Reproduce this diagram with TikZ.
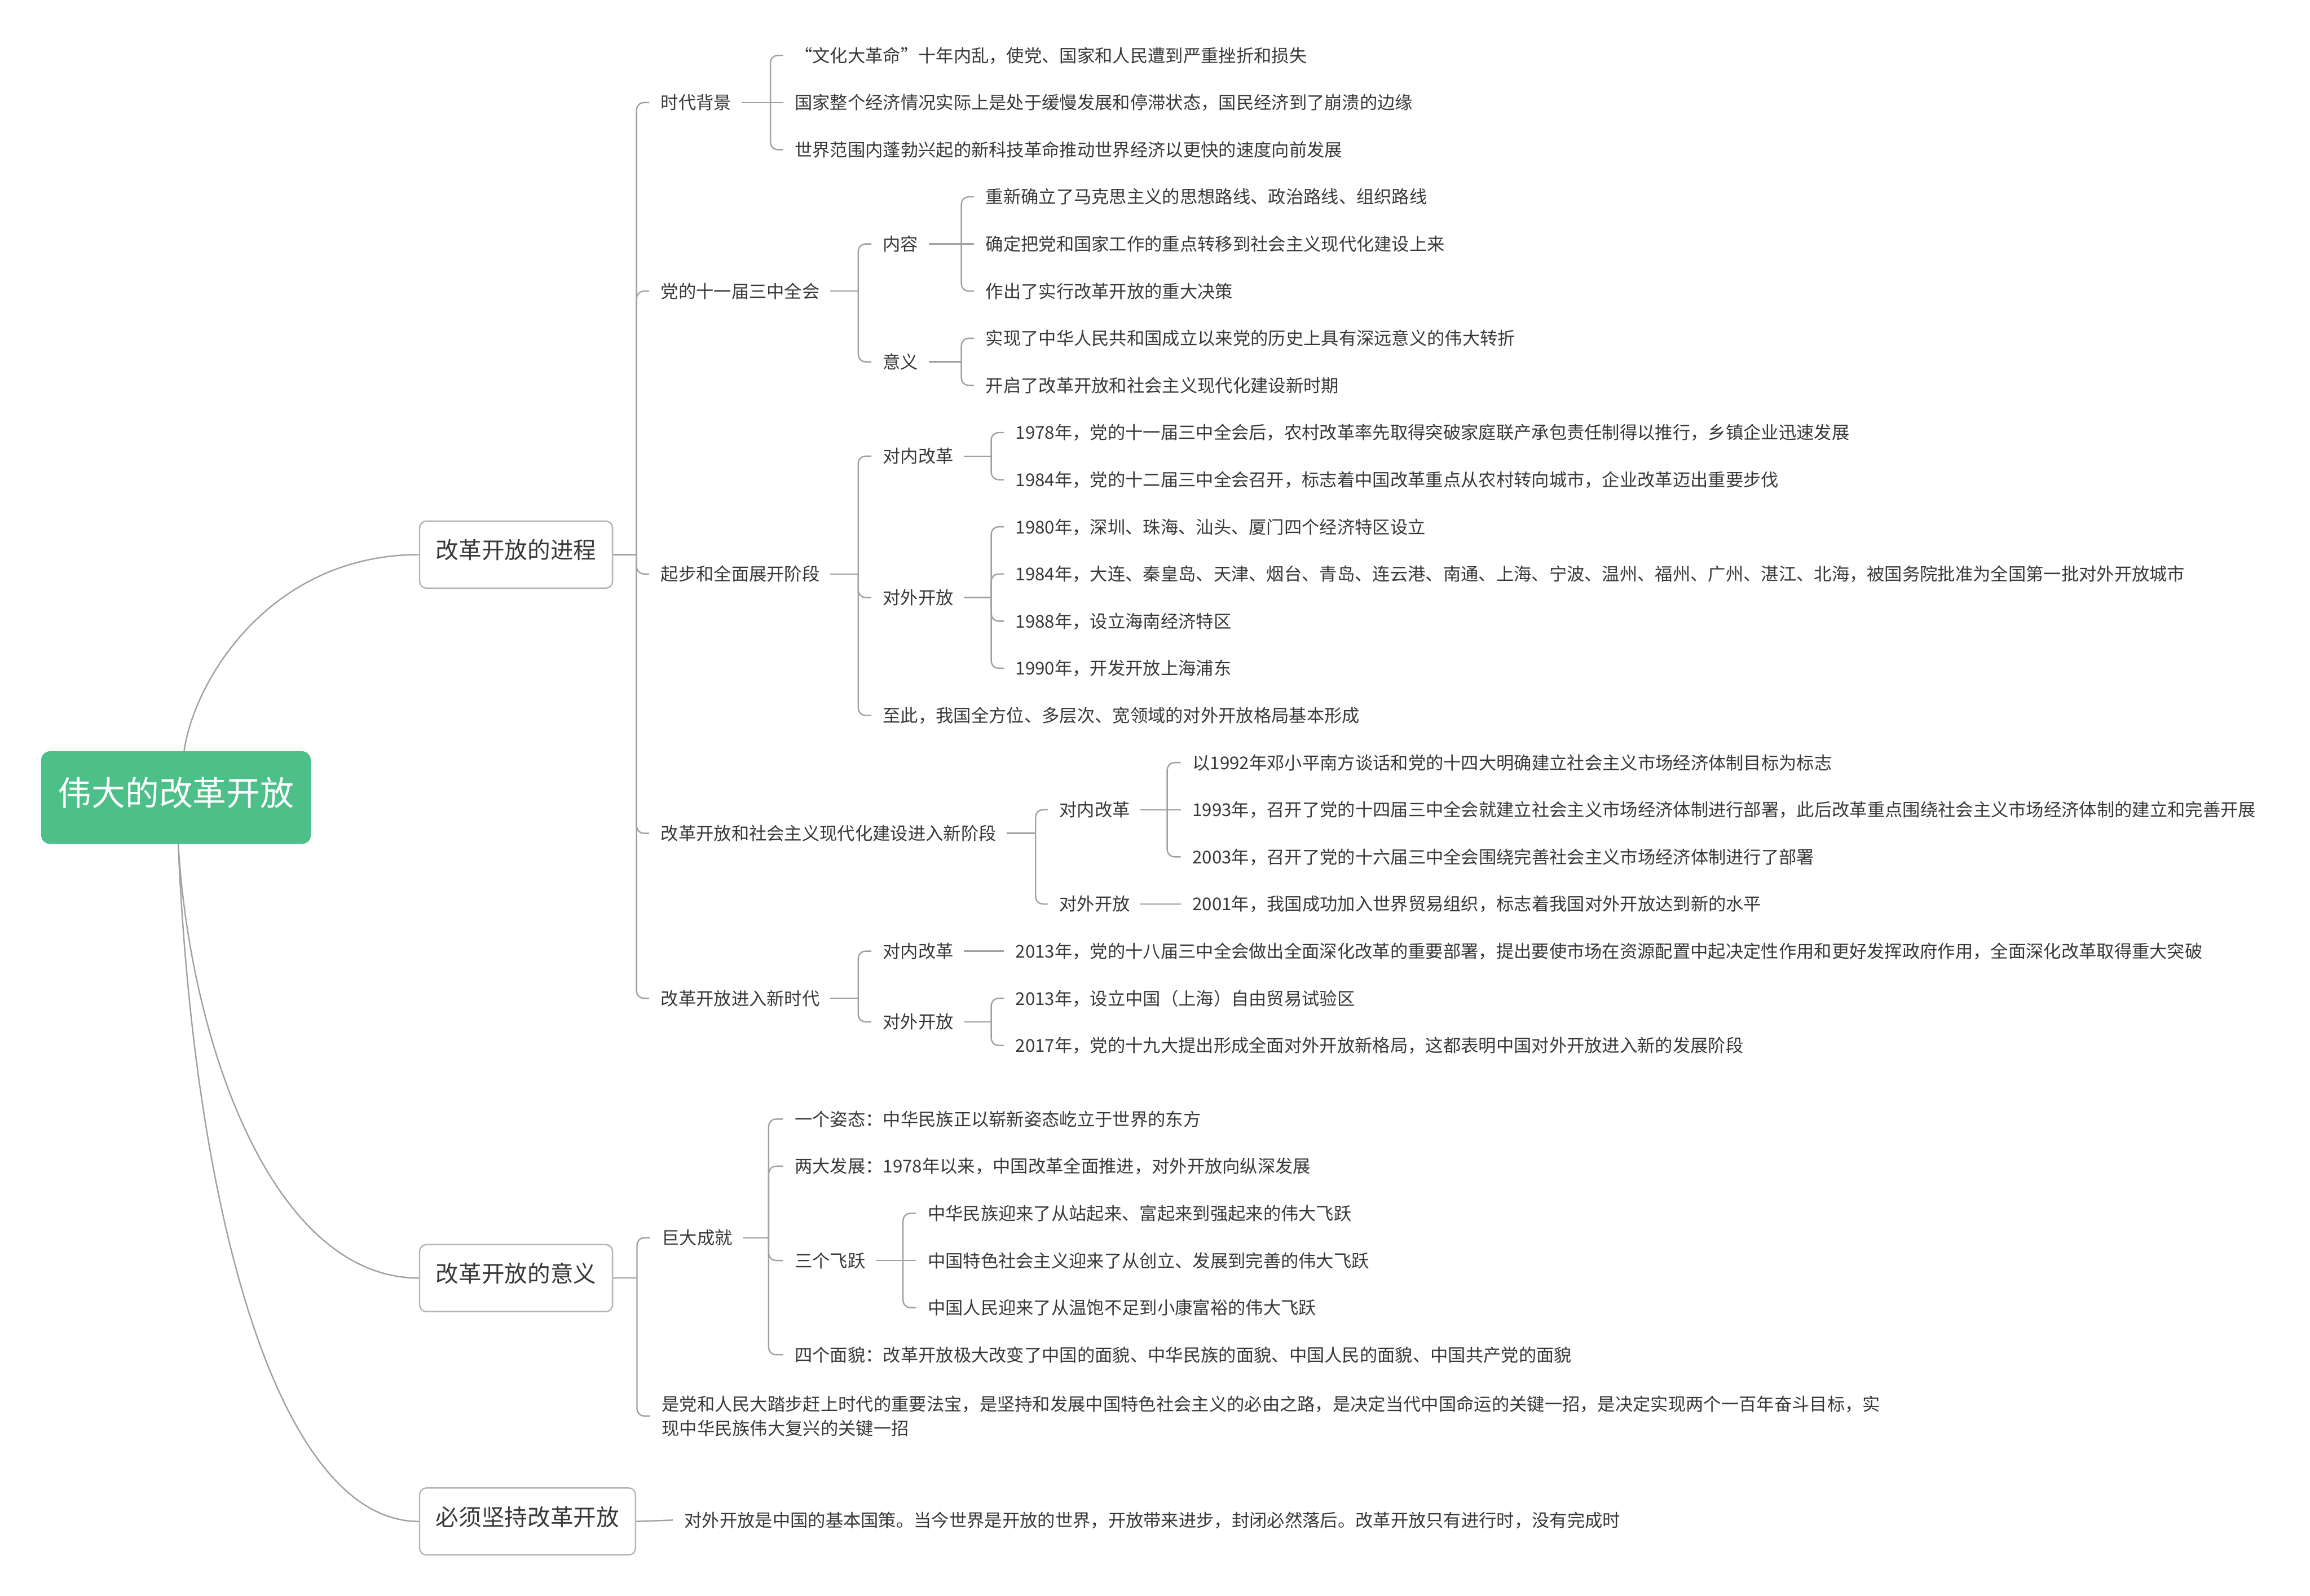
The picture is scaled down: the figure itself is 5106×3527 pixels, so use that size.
\documentclass[tikz,border=0pt]{standalone}
\usepackage{fontspec}
\setmainfont{Noto Sans CJK SC}
\usetikzlibrary{calc}
\definecolor{rootgreen}{RGB}{77,192,138}
\definecolor{txt}{RGB}{56,56,56}
\definecolor{ln}{RGB}{160,160,160}
\definecolor{bd}{RGB}{180,180,180}
\begin{document}
\begin{tikzpicture}[x=0.01cm,y=-0.01cm,
  conn/.style={draw=ln,line width=0.03cm},
  elbow/.style={conn,rounded corners=0.16cm},
  leaf/.style={anchor=west,inner sep=0pt,text=txt,font=\fontsize{11.1}{15}\selectfont,text height=9.77pt,text depth=1.33pt},
  para/.style={anchor=west,inner sep=0pt,text=txt,font=\fontsize{11.1}{15.4}\selectfont,align=left},
  mainbox/.style={anchor=west,draw=bd,line width=0.03cm,fill=white,rounded corners=0.15cm,inner xsep=0.36cm,inner ysep=0pt,minimum height=1.48cm,text=txt,font=\fontsize{14.4}{17}\selectfont,text height=12.7pt,text depth=7.5pt},
  rootbox/.style={fill=rootgreen,rounded corners=0.2cm,minimum width=5.96cm,minimum height=2.05cm,text=white,font=\fontsize{21.2}{25}\selectfont,inner sep=0pt,text height=18.6pt,text depth=8.2pt}]
\useasboundingbox (0,0) rectangle (5106,3527);

% root and main branches
\node[rootbox] (root) at (389,1763) {伟大的改革开放};
\node[mainbox] (p1) at (926,1226) {改革开放的进程};
\node[mainbox] (p2) at (926,2825) {改革开放的意义};
\node[mainbox] (p3) at (926,3363) {必须坚持改革开放};

\draw[conn] ([xshift=0.18cm]root.north) .. controls (430,1500) and (600,1226) .. (p1.west);
\draw[conn] ([xshift=0.05cm]root.south) .. controls (420,2300) and (600,2825) .. (p2.west);
\draw[conn] ([xshift=0.05cm]root.south) .. controls (430,2700) and (620,3363) .. (p3.west);

% ---- 改革开放的进程 ----
\node[leaf] (a) at (1460,226.7) {时代背景};
\node[leaf] (a1) at (1756,122.5) {“文化大革命”十年内乱，使党、国家和人民遭到严重挫折和损失};
\node[leaf] (a2) at (1756,226.7) {国家整个经济情况实际上是处于缓慢发展和停滞状态，国民经济到了崩溃的边缘};
\node[leaf] (a3) at (1756,330.9) {世界范围内蓬勃兴起的新科技革命推动世界经济以更快的速度向前发展};

\node[leaf] (b) at (1460,643.5) {党的十一届三中全会};
\node[leaf] (b1) at (1951,539.3) {内容};
\node[leaf] (b11) at (2178,435.1) {重新确立了马克思主义的思想路线、政治路线、组织路线};
\node[leaf] (b12) at (2178,539.3) {确定把党和国家工作的重点转移到社会主义现代化建设上来};
\node[leaf] (b13) at (2178,643.5) {作出了实行改革开放的重大决策};
\node[leaf] (b2) at (1951,799.8) {意义};
\node[leaf] (b21) at (2178,747.7) {实现了中华人民共和国成立以来党的历史上具有深远意义的伟大转折};
\node[leaf] (b22) at (2178,851.9) {开启了改革开放和社会主义现代化建设新时期};

\node[leaf] (c) at (1460,1268.7) {起步和全面展开阶段};
\node[leaf] (c1) at (1951,1008.2) {对内改革};
\node[leaf] (c11) at (2244,956.1) {1978年，党的十一届三中全会后，农村改革率先取得突破家庭联产承包责任制得以推行，乡镇企业迅速发展};
\node[leaf] (c12) at (2244,1060.3) {1984年，党的十二届三中全会召开，标志着中国改革重点从农村转向城市，企业改革迈出重要步伐};
\node[leaf] (c2) at (1951,1320.8) {对外开放};
\node[leaf] (c21) at (2244,1164.5) {1980年，深圳、珠海、汕头、厦门四个经济特区设立};
\node[leaf] (c22) at (2244,1268.7) {1984年，大连、秦皇岛、天津、烟台、青岛、连云港、南通、上海、宁波、温州、福州、广州、湛江、北海，被国务院批准为全国第一批对外开放城市};
\node[leaf] (c23) at (2244,1372.9) {1988年，设立海南经济特区};
\node[leaf] (c24) at (2244,1477.1) {1990年，开发开放上海浦东};
\node[leaf] (c3) at (1951,1581.3) {至此，我国全方位、多层次、宽领域的对外开放格局基本形成};

\node[leaf] (d) at (1460,1841.9) {改革开放和社会主义现代化建设进入新阶段};
\node[leaf] (d1) at (2341,1789.8) {对内改革};
\node[leaf] (d11) at (2635,1685.6) {以1992年邓小平南方谈话和党的十四大明确建立社会主义市场经济体制目标为标志};
\node[leaf] (d12) at (2635,1789.8) {1993年，召开了党的十四届三中全会就建立社会主义市场经济体制进行部署，此后改革重点围绕社会主义市场经济体制的建立和完善开展};
\node[leaf] (d13) at (2635,1894.0) {2003年，召开了党的十六届三中全会围绕完善社会主义市场经济体制进行了部署};
\node[leaf] (d2) at (2341,1998.2) {对外开放};
\node[leaf] (d21) at (2635,1998.2) {2001年，我国成功加入世界贸易组织，标志着我国对外开放达到新的水平};

\node[leaf] (e) at (1460,2206.6) {改革开放进入新时代};
\node[leaf] (e1) at (1951,2102.4) {对内改革};
\node[leaf] (e11) at (2244,2102.4) {2013年，党的十八届三中全会做出全面深化改革的重要部署，提出要使市场在资源配置中起决定性作用和更好发挥政府作用，全面深化改革取得重大突破};
\node[leaf] (e2) at (1951,2258.7) {对外开放};
\node[leaf] (e21) at (2244,2206.6) {2013年，设立中国（上海）自由贸易试验区};
\node[leaf] (e22) at (2244,2310.8) {2017年，党的十九大提出形成全面对外开放新格局，这都表明中国对外开放进入新的发展阶段};

% ---- 改革开放的意义 ----
\node[leaf] (f) at (1462,2736) {巨大成就};
\node[leaf] (f1) at (1756,2473.6) {一个姿态：中华民族正以崭新姿态屹立于世界的东方};
\node[leaf] (f2) at (1756,2577.8) {两大发展：1978年以来，中国改革全面推进，对外开放向纵深发展};
\node[leaf] (f3) at (1756,2786.2) {三个飞跃};
\node[leaf] (f31) at (2050,2682.0) {中华民族迎来了从站起来、富起来到强起来的伟大飞跃};
\node[leaf] (f32) at (2050,2786.2) {中国特色社会主义迎来了从创立、发展到完善的伟大飞跃};
\node[leaf] (f33) at (2050,2890.4) {中国人民迎来了从温饱不足到小康富裕的伟大飞跃};
\node[leaf] (f4) at (1756,2994.6) {四个面貌：改革开放极大改变了中国的面貌、中华民族的面貌、中国人民的面貌、中国共产党的面貌};
\node[para] (g) at (1462,3130) {是党和人民大踏步赶上时代的重要法宝，是坚持和发展中国特色社会主义的必由之路，是决定当代中国命运的关键一招，是决定实现两个一百年奋斗目标，实\\现中华民族伟大复兴的关键一招};

% ---- 必须坚持改革开放 ----
\node[leaf] (h) at (1512,3360) {对外开放是中国的基本国策。当今世界是开放的世界，开放带来进步，封闭必然落后。改革开放只有进行时，没有完成时};

% junctions
\coordinate (j1) at (1407,1226);
\coordinate (ja) at (1703,226.7);
\coordinate (jb) at (1897,643.5);
\coordinate (jb1) at (2125,539.3);
\coordinate (jb2) at (2125,799.8);
\coordinate (jc) at (1897,1268.7);
\coordinate (jc1) at (2191,1008.2);
\coordinate (jc2) at (2191,1320.8);
\coordinate (jd) at (2289,1841.9);
\coordinate (jd1) at (2580,1789.8);
\coordinate (je) at (1897,2206.6);
\coordinate (je2) at (2191,2258.7);
\coordinate (j2) at (1408,2825);
\coordinate (jf) at (1699,2736);
\coordinate (jf3) at (1996,2786.2);

% connectors 进程
\draw[conn] (p1.east) -- (j1);
\foreach \c in {a,b,c,d,e} \draw[elbow] (j1) |- ([xshift=-0.25cm]\c.west);

\draw[conn] ([xshift=0.22cm]a.east) -- (ja);
\draw[elbow] (ja) |- ([xshift=-0.25cm]a1.west);
\draw[conn] (ja) -- ([xshift=-0.25cm]a2.west);
\draw[elbow] (ja) |- ([xshift=-0.25cm]a3.west);

\draw[conn] ([xshift=0.22cm]b.east) -- (jb);
\foreach \c in {b1,b2} \draw[elbow] (jb) |- ([xshift=-0.25cm]\c.west);
\draw[conn] ([xshift=0.22cm]b1.east) -- (jb1);
\draw[elbow] (jb1) |- ([xshift=-0.25cm]b11.west);
\draw[conn] (jb1) -- ([xshift=-0.25cm]b12.west);
\draw[elbow] (jb1) |- ([xshift=-0.25cm]b13.west);
\draw[conn] ([xshift=0.22cm]b2.east) -- (jb2);
\foreach \c in {b21,b22} \draw[elbow] (jb2) |- ([xshift=-0.25cm]\c.west);

\draw[conn] ([xshift=0.22cm]c.east) -- (jc);
\foreach \c in {c1,c2,c3} \draw[elbow] (jc) |- ([xshift=-0.25cm]\c.west);
\draw[conn] ([xshift=0.22cm]c1.east) -- (jc1);
\foreach \c in {c11,c12} \draw[elbow] (jc1) |- ([xshift=-0.25cm]\c.west);
\draw[conn] ([xshift=0.22cm]c2.east) -- (jc2);
\foreach \c in {c21,c22,c23,c24} \draw[elbow] (jc2) |- ([xshift=-0.25cm]\c.west);

\draw[conn] ([xshift=0.22cm]d.east) -- (jd);
\foreach \c in {d1,d2} \draw[elbow] (jd) |- ([xshift=-0.25cm]\c.west);
\draw[conn] ([xshift=0.22cm]d1.east) -- (jd1);
\draw[elbow] (jd1) |- ([xshift=-0.25cm]d11.west);
\draw[conn] (jd1) -- ([xshift=-0.25cm]d12.west);
\draw[elbow] (jd1) |- ([xshift=-0.25cm]d13.west);
\draw[conn] ([xshift=0.22cm]d2.east) -- ([xshift=-0.25cm]d21.west);

\draw[conn] ([xshift=0.22cm]e.east) -- (je);
\foreach \c in {e1,e2} \draw[elbow] (je) |- ([xshift=-0.25cm]\c.west);
\draw[conn] ([xshift=0.22cm]e1.east) -- ([xshift=-0.25cm]e11.west);
\draw[conn] ([xshift=0.22cm]e2.east) -- (je2);
\foreach \c in {e21,e22} \draw[elbow] (je2) |- ([xshift=-0.25cm]\c.west);

% connectors 意义
\draw[conn] (p2.east) -- (j2);
\foreach \c in {f,g} \draw[elbow] (j2) |- ([xshift=-0.25cm]\c.west);
\draw[conn] ([xshift=0.22cm]f.east) -- (jf);
\foreach \c in {f1,f2,f3,f4} \draw[elbow] (jf) |- ([xshift=-0.25cm]\c.west);
\draw[conn] ([xshift=0.22cm]f3.east) -- (jf3);
\draw[elbow] (jf3) |- ([xshift=-0.25cm]f31.west);
\draw[conn] (jf3) -- ([xshift=-0.25cm]f32.west);
\draw[elbow] (jf3) |- ([xshift=-0.25cm]f33.west);

% connector 必须
\draw[conn] (p3.east) -- ([xshift=-0.25cm]h.west);
\end{tikzpicture}
\end{document}
